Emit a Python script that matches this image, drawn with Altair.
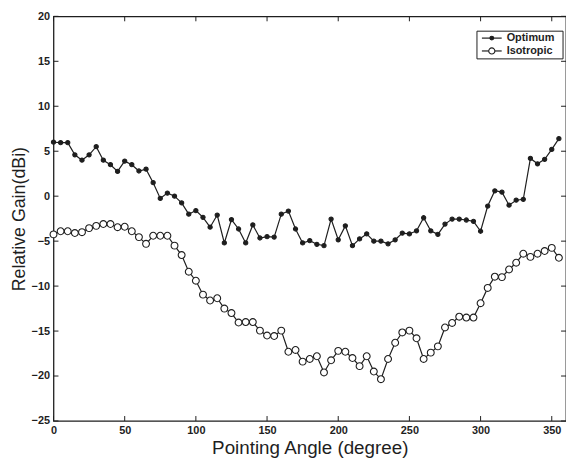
import altair as alt
import pandas as pd

# ---- data -------------------------------------------------------------------
angles = [5 * i for i in range(72)]  # pointing angle, 0..355 degrees, 5-degree steps

optimum = [6.0, 5.95, 5.95, 4.6, 4.0, 4.6, 5.5, 4.0, 3.5, 2.75,
           3.9, 3.5, 2.8, 3.0, 1.5, -0.25, 0.35, 0.0, -0.75, -2.0,
           -1.6, -2.35, -3.45, -2.1, -5.2, -2.6, -3.65, -5.2, -3.2, -4.65,
           -4.5, -4.55, -2.0, -1.65, -3.65, -5.2, -4.95, -5.35, -5.5, -2.55,
           -4.85, -3.3, -5.5, -4.75, -4.2, -5.0, -5.0, -5.3, -4.85, -4.1,
           -4.2, -3.85, -2.4, -3.85, -4.25, -3.1, -2.55, -2.55, -2.65, -2.8,
           -3.9, -1.1, 0.6, 0.45, -1.0, -0.45, -0.35, 4.2, 3.6, 4.1,
           5.2, 6.4]

isotropic = [-4.25, -3.9, -3.9, -4.1, -4.0, -3.55, -3.3, -3.1, -3.1, -3.45,
             -3.4, -3.9, -4.55, -5.3, -4.4, -4.4, -4.4, -5.5, -6.55, -8.4,
             -9.4, -10.95, -11.6, -11.35, -12.5, -13.0, -14.05, -14.0, -14.0, -14.95,
             -15.5, -15.55, -14.95, -17.3, -17.1, -18.4, -18.1, -17.8, -19.6, -18.25,
             -17.2, -17.3, -18.0, -18.9, -17.8, -19.5, -20.35, -18.1, -16.3, -15.15,
             -14.95, -15.8, -18.1, -17.4, -16.7, -14.6, -14.1, -13.4, -13.5, -13.5,
             -11.9, -10.2, -8.95, -9.0, -8.15, -7.4, -6.4, -6.75, -6.4, -6.1,
             -5.75, -6.85]

series_names = ["Optimum", "Isotropic"]
x_ticks = [0, 50, 100, 150, 200, 250, 300, 350]
y_ticks = [-25, -20, -15, -10, -5, 0, 5, 10, 15, 20]

df = pd.DataFrame({
    "angle": angles + angles,
    "gain": optimum + isotropic,
    "series": [series_names[0]] * len(angles) + [series_names[1]] * len(angles),
})
xt_df = pd.DataFrame({"angle": x_ticks})
yt_df = pd.DataFrame({"gain": y_ticks})

# ---- styling ------------------------------------------------------------------
INK = "#1e1e1e"
FONT = "Liberation Sans"
W, H = 518, 409
TICK = 5
FILLS = [INK, "white"]
SIZES = [18, 48]

x_enc = alt.X(
    "angle:Q",
    scale=alt.Scale(domain=[0, 360], nice=False, zero=False),
    axis=alt.Axis(values=x_ticks, title="Pointing Angle (degree)", ticks=False,
                  domain=False, grid=False, labelPadding=4, titlePadding=3,
                  labelFontSize=11, labelFontWeight="bold", labelFlush=False,
                  titleFontSize=19, titleFontWeight="normal"),
)
y_enc = alt.Y(
    "gain:Q",
    scale=alt.Scale(domain=[-25, 20], nice=False, zero=False),
    axis=alt.Axis(values=y_ticks, title="Relative Gain(dBi)", ticks=False,
                  domain=False, grid=False, labelPadding=4, titlePadding=3,
                  labelFontSize=11, labelFontWeight="bold", labelFlush=False,
                  titleFontSize=18, titleFontWeight="normal"),
)

lines = alt.Chart(df).mark_line(color=INK, strokeWidth=1.2).encode(
    x=x_enc, y=y_enc, detail="series:N"
)

points = alt.Chart(df).mark_point(
    shape="circle", filled=True, stroke=INK, strokeWidth=1.1, opacity=1
).encode(
    x=x_enc,
    y=y_enc,
    fill=alt.Fill("series:N",
                  scale=alt.Scale(domain=series_names, range=FILLS),
                  legend=None),
    size=alt.Size("series:N",
                  scale=alt.Scale(domain=series_names, range=SIZES),
                  legend=None),
)

tick_bottom = alt.Chart(xt_df).mark_rule(color=INK, strokeWidth=1).encode(
    x=x_enc, y=alt.value(H), y2=alt.value(H - TICK))
tick_top = alt.Chart(xt_df).mark_rule(color=INK, strokeWidth=1).encode(
    x=x_enc, y=alt.value(0), y2=alt.value(TICK))
tick_left = alt.Chart(yt_df).mark_rule(color=INK, strokeWidth=1).encode(
    y=y_enc, x=alt.value(0), x2=alt.value(TICK))
tick_right = alt.Chart(yt_df).mark_rule(color=INK, strokeWidth=1).encode(
    y=y_enc, x=alt.value(W), x2=alt.value(W - TICK))

# ---- legend box (top right, inside the plot) -----------------------------------
LX0, LX1, LY0, LY1 = 428, 515, 15, 43
ROW0, ROW_STEP = 22, 13
one = pd.DataFrame({"k": [0]})
legend_layers = [
    alt.Chart(one).mark_rect(fill="white", stroke=INK, strokeWidth=1).encode(
        x=alt.value(LX0), x2=alt.value(LX1), y=alt.value(LY0), y2=alt.value(LY1))
]
for i, name in enumerate(series_names):
    ly = ROW0 + i * ROW_STEP
    row = pd.DataFrame({"series": [name]})
    legend_layers.append(
        alt.Chart(row).mark_rule(color=INK, strokeWidth=1.2).encode(
            x=alt.value(LX0 + 5), x2=alt.value(LX0 + 25), y=alt.value(ly)))
    legend_layers.append(
        alt.Chart(row).mark_point(shape="circle", filled=True, fill=FILLS[i],
                                  stroke=INK, strokeWidth=1.1, opacity=1,
                                  size=SIZES[i] * 0.8).encode(
            x=alt.value(LX0 + 15), y=alt.value(ly)))
    legend_layers.append(
        alt.Chart(row).mark_text(align="left", baseline="middle", font=FONT,
                                 fontSize=11, fontWeight="bold", color=INK).encode(
            x=alt.value(LX0 + 30), y=alt.value(ly), text="series:N"))

chart = alt.layer(
    lines, points, tick_bottom, tick_top, tick_left, tick_right, *legend_layers
).properties(
    width=W,
    height=H,
    autosize=alt.AutoSizeParams(type="none"),
    padding={"left": 46, "top": 6, "right": 0, "bottom": 37},
    background="white",
).configure_view(
    stroke=INK, strokeWidth=1.3
).configure_axis(
    labelFont=FONT, titleFont=FONT, labelColor=INK, titleColor=INK
)

chart.save("out.html", embed_options={"renderer": "svg", "actions": False})
